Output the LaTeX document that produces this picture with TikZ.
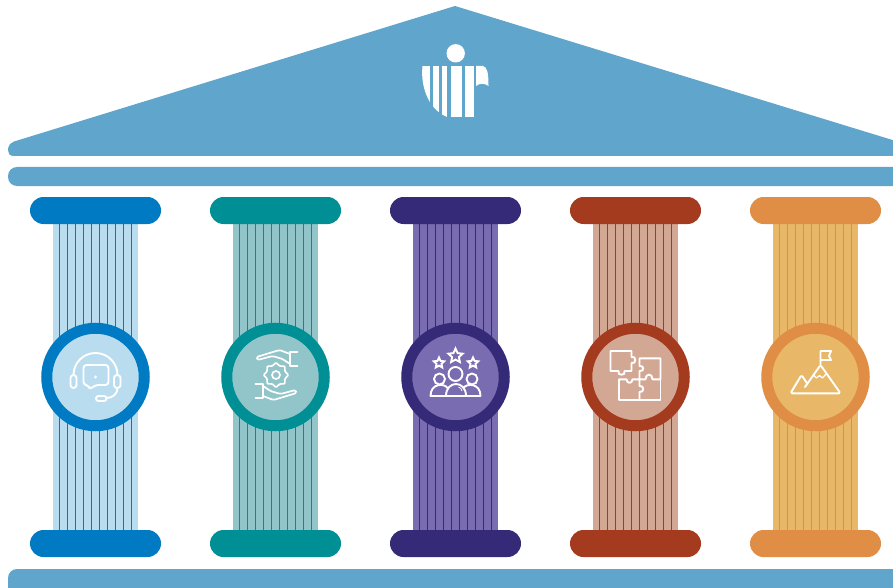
\documentclass[tikz,border=0pt]{standalone}
\usetikzlibrary{shapes.geometric}
\definecolor{roofblue}{HTML}{5FA5CC}
\definecolor{blueD}{HTML}{007AC2}
\definecolor{blueL}{HTML}{B9DDEE}
\definecolor{tealD}{HTML}{008F94}
\definecolor{tealL}{HTML}{92C5C9}
\definecolor{violetD}{HTML}{352A78}
\definecolor{violetL}{HTML}{7A6CB0}
\definecolor{brownD}{HTML}{A43A1E}
\definecolor{brownL}{HTML}{D2A794}
\definecolor{orangeD}{HTML}{E08E45}
\definecolor{orangeL}{HTML}{E8B868}
\tikzset{
  capital/.style={minimum width=131pt,minimum height=27pt,rounded corners=13.5pt,inner sep=0pt},
  medal/.style={circle,line width=11pt,minimum size=97.5pt,inner sep=0pt},
  icon/.style={draw=white,line width=1.9pt,line join=round,line cap=round},
  starmark/.style={star,star points=5,star point ratio=2.1,draw=white,line width=1.9pt,inner sep=0pt}
}
\begin{document}
\begin{tikzpicture}[x=1pt,y=-1pt]
\useasboundingbox (0,0) rectangle (893,588);
\clip (0,0) rectangle (893,588);
    \fill[white] (0,0) rectangle (893,588);
    % roof and bands
    \fill[roofblue] (455,6) -- (1010,176) -- (1010,156) -- (14,156) .. controls (9,156) and (8,153) .. (8,150) .. controls (8,146) and (10,143.5) .. (14,141.5) -- cycle;
    \fill[roofblue,rounded corners=9pt] (8,167) rectangle (920,186);
    \fill[roofblue,rounded corners=9pt] (8,569) rectangle (920,600);
    % logo
    \fill[white] (455.7,53.3) circle (9.2);
    \begin{scope}
      \clip (422.5,66) .. controls (420,90) and (431,111) .. (447.3,117) -- (475,117) -- (475,66) -- cycle;
      \foreach \xa/\xb in {422/430,433.3/439.3,442/447.3,451/461.7,465/474}{
        \fill[white] (\xa,66) rectangle (\xb,117);
      }
    \end{scope}
    \fill[white] (476,66) -- (483,66) .. controls (487,67) and (488.5,72) .. (488.5,86) .. controls (484,83) and (480,83) .. (476,86) -- cycle;
    % columns
    \foreach \xc/\nm/\dk/\lt in {95.5/a/blueD/blueL,275.5/b/tealD/tealL,455.5/c/violetD/violetL,635.5/d/brownD/brownL,815.5/e/orangeD/orangeL}{
      \fill[\lt] (\xc-42.5,224) rectangle (\xc+42.5,530);
      \foreach \dx in {-36,-28,...,36}{
        \draw[\dk,line width=1pt] (\xc+\dx,224) -- (\xc+\dx,530);
      }
      \node[capital,fill=\dk] (top\nm) at (\xc,210.5) {};
      \node[capital,fill=\dk] (foot\nm) at (\xc,543.5) {};
      \node[medal,draw=\dk,fill=\lt] (ring\nm) at (\xc,377) {};
    }
    % headset
    \begin{scope}[shift={(95.5,377)}]
      \draw[icon] (-22,-2) arc (180:360:22);
      \draw[icon,rounded corners=3pt] (-25,-2) rectangle (-19,11);
      \draw[icon,rounded corners=3pt] (18.5,-2) rectangle (25,11);
      \draw[icon,rounded corners=3pt] (-7,8) -- (-12,8) -- (-12,-12) -- (13,-12) -- (13,8) -- (0,8) -- (-6,12.5) -- cycle;
      \fill[white] (0,0) circle (1.7);
      \draw[icon] (22,11) .. controls (22,17) and (17,21) .. (11,21);
      \draw[icon,rounded corners=2.5pt] (0.5,19) rectangle (11,24);
    \end{scope}
    % hands and gear
    \begin{scope}[shift={(275.5,377)}]
      \node[star,star points=8,star point ratio=1.3,draw=white,line width=1.7pt,rounded corners=1pt,minimum size=25pt,inner sep=0pt] (gear) at (0.5,-2) {};
      \draw[icon,line width=1.7pt] (0.5,-2) circle (4);
      \foreach \ang in {0,180}{
        \begin{scope}[rotate around={\ang:(1,-2)}]
          \draw[icon,line width=1.7pt] (22,-25) -- (14.5,-25) -- (14.5,-11) -- (22,-11);
          \draw[icon,line width=1.7pt,rounded corners=1.5pt] (14.5,-23) -- (4,-27) -- (-19,-20) -- (-18,-17) -- (-3,-21) -- (7,-18) -- (14.5,-13);
        \end{scope}
      }
    \end{scope}
    % team and stars
    \begin{scope}[shift={(455.5,377)}]
      \node[starmark,minimum size=15pt] (stmid) at (0,-21) {};
      \node[starmark,minimum size=11pt] (stleft) at (-16.5,-14) {};
      \node[starmark,minimum size=11pt] (stright) at (17.5,-14) {};
      \draw[icon] (0,-3) circle (7);
      \draw[icon] (-16,2) circle (5.5);
      \draw[icon] (16.5,2) circle (5.5);
      \draw[icon] (-25,19) -- (25,19);
      \draw[icon] (-9.5,19) .. controls (-9.5,3) and (10.5,3) .. (10.5,19);
      \draw[icon] (-25,19) .. controls (-25,6) and (-11,6) .. (-8,11);
      \draw[icon] (25,19) .. controls (25,6) and (11,6) .. (8,11);
      \draw[white,line width=0.8pt] (3,10) .. controls (5,10.5) and (6,12) .. (6.5,14);
    \end{scope}
    % puzzle
    \begin{scope}[shift={(635.5,377)}]
      \draw[icon] (-25,-26) -- (-4,-26) -- (-4,-20) .. controls (1,-22) and (1,-12) .. (-4,-14) -- (-4,-6) -- (-11,-6) .. controls (-9,-1) and (-19,-1) .. (-17,-6) -- (-25,-6) -- cycle;
      \draw[icon] (4,-18.7) -- (25,-18.7) -- (25,2.3) -- (17,2.3) .. controls (17,-4) and (10,-4) .. (10,2.3) -- (4,2.3) -- (4,-6) .. controls (9,-5) and (9,-12) .. (4,-11) -- cycle;
      \draw[icon] (-16.5,2.3) -- (-9,2.3) .. controls (-9,7) and (-3,7) .. (-3,2.3) -- (4,2.3) -- (4,9) .. controls (9,8) and (9,16) .. (4,15) -- (4,23) -- (-16.5,23) -- cycle;
      \draw[icon] (4,23) -- (25,23) -- (25,2.3);
    \end{scope}
    % mountain
    \begin{scope}[shift={(815.5,377)}]
      \draw[icon] (5,-12) -- (5,-26) -- (15.5,-26) -- (13.5,-21) -- (15.5,-17) -- (5,-17);
      \draw[icon,rounded corners=1.5pt] (-10.5,10) -- (5,-12) -- (25,16.3) -- (-25,16.3) -- (-14,-2) -- (-8,7);
      \draw[icon,line width=1.3pt] (-2,-2) -- (1,1) -- (4,-1.5) -- (7,1) -- (10.5,-3);
    \end{scope}
\end{tikzpicture}
\end{document}
